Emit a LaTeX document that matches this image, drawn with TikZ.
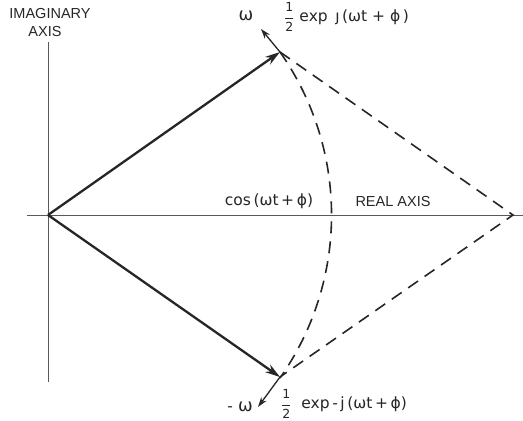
\documentclass[tikz,border=0pt]{standalone}
\usepackage{fontspec}
\setmainfont{Liberation Sans}
\newfontfamily\widefont{DejaVu Sans}
\usetikzlibrary{arrows.meta}
\newcommand{\halfsym}{$\displaystyle\frac{\mbox{\fontsize{12.5}{12.5}\selectfont 1}}{\mbox{\fontsize{12.5}{12.5}\selectfont 2}}$}
\begin{document}
\begin{tikzpicture}[x=1pt,y=-1pt,
  axisline/.style={line width=0.9pt, black!65},
  phasor/.style={line width=2.3pt, black!85, -{Stealth[length=15pt,width=9pt]}},
  rot/.style={line width=1.3pt, black!85, -{Stealth[length=10pt,width=6.5pt]}},
  dashline/.style={line width=1.6pt, black!85, dash pattern=on 12pt off 8pt},
  lbl/.style={inner sep=0pt, font=\widefont\fontsize{15.5}{16}\selectfont, black!85},
  caps/.style={inner sep=0pt, font=\fontsize{14.5}{15}\selectfont, black!85}]
\useasboundingbox (0,0) rectangle (523,421);
\coordinate (O) at (48,215);
\coordinate (A) at (280,52);
\coordinate (B) at (280,377);
\coordinate (R) at (513,215);
\coordinate (wA) at (261,29);
\coordinate (wB) at (258,407);
\coordinate (vtop) at (48,42);
\coordinate (vbot) at (48,382);
\coordinate (hl) at (27,215);
\coordinate (hr) at (523,215);
% axes
\draw[axisline] (vtop) -- (vbot);
\draw[axisline] (hl) -- (hr);
% dashed
\draw[dashline] (A) -- (R) -- (B);
\draw[dashline] (A) arc[start angle=-35.1, end angle=35.1, radius=283.5];
% phasors
\draw[phasor] (O) -- (A);
\draw[phasor] (O) -- (B);
\draw[rot] (A) -- (wA);
\draw[rot] (B) -- (wB);
% labels
\node[caps] (im) at (50,14) {IMAGINARY};
\node[caps] (ax) at (45,32) {AXIS};
\node[caps] (re) at (393,202) {REAL AXIS};
\node[lbl] (cos) at (269,201) {cos\,(ωt\,+\,ϕ)};
\node[lbl] (w1) at (246,16) {\fontsize{17.5}{17}\selectfont ω};
\node[lbl, anchor=west] (e1) at (284,17) {\halfsym\ exp\ \,ȷ\,(ωt\ +\ ϕ\,)};
\node[lbl] (w2) at (240,407) {-\,\,\fontsize{17.5}{17}\selectfont ω};
\node[lbl, anchor=west] (e2) at (281,404) {\halfsym\ \ exp\,-\,j\,(ωt\,+\,ϕ)};
\end{tikzpicture}
\end{document}
